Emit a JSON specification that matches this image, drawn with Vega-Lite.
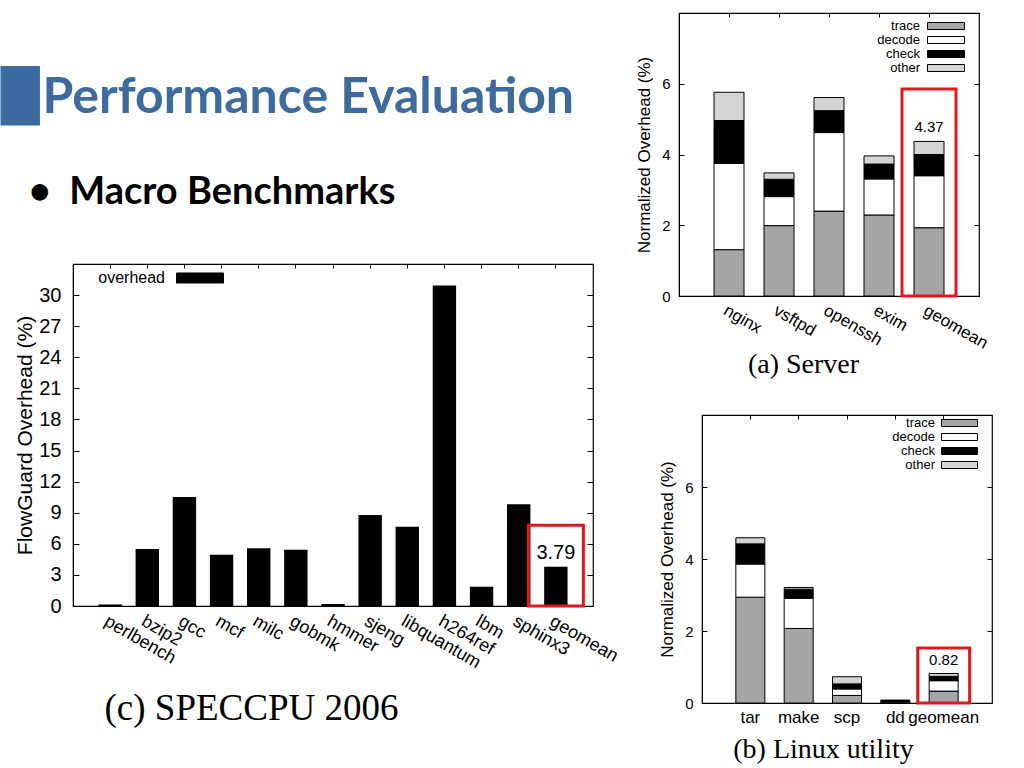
{
  "$schema": "https://vega.github.io/schema/vega-lite/v6.json",
  "background": "white",
  "padding": {"left": 0, "top": 11, "right": 0, "bottom": 0},
  "config": {
    "view": {"stroke": "black", "strokeWidth": 1.2},
    "axis": {"domainColor": "black", "tickColor": "black", "labelColor": "black", "titleColor": "black", "labelFont": "Liberation Sans", "titleFont": "Liberation Sans", "titleFontWeight": "normal", "grid": false, "labelOverlap": false},
    "legend": {"labelFont": "Liberation Sans", "labelColor": "black"}
  },
  "datasets": {
    "spec": [
      {"bench": "perlbench", "value": 0.15, "series": "overhead"},
      {"bench": "bzip2", "value": 5.49, "series": "overhead"},
      {"bench": "gcc", "value": 10.52, "series": "overhead"},
      {"bench": "mcf", "value": 4.94, "series": "overhead"},
      {"bench": "milc", "value": 5.58, "series": "overhead"},
      {"bench": "gobmk", "value": 5.42, "series": "overhead"},
      {"bench": "hmmer", "value": 0.19, "series": "overhead"},
      {"bench": "sjeng", "value": 8.79, "series": "overhead"},
      {"bench": "libquantum", "value": 7.64, "series": "overhead"},
      {"bench": "h264ref", "value": 30.93, "series": "overhead"},
      {"bench": "lbm", "value": 1.86, "series": "overhead"},
      {"bench": "sphinx3", "value": 9.82, "series": "overhead"},
      {"bench": "geomean", "value": 3.79, "series": "overhead"}
    ],
    "specbox": [{"bench": "geomean", "top": 7.8, "value": 3.79, "label": "3.79"}],
    "server": [
      {"app": "nginx", "part": "trace", "rank": 1, "value": 1.31},
      {"app": "nginx", "part": "decode", "rank": 2, "value": 2.44},
      {"app": "nginx", "part": "check", "rank": 3, "value": 1.21},
      {"app": "nginx", "part": "other", "rank": 4, "value": 0.80},
      {"app": "vsftpd", "part": "trace", "rank": 1, "value": 1.99},
      {"app": "vsftpd", "part": "decode", "rank": 2, "value": 0.82},
      {"app": "vsftpd", "part": "check", "rank": 3, "value": 0.49},
      {"app": "vsftpd", "part": "other", "rank": 4, "value": 0.18},
      {"app": "openssh", "part": "trace", "rank": 1, "value": 2.40},
      {"app": "openssh", "part": "decode", "rank": 2, "value": 2.22},
      {"app": "openssh", "part": "check", "rank": 3, "value": 0.62},
      {"app": "openssh", "part": "other", "rank": 4, "value": 0.37},
      {"app": "exim", "part": "trace", "rank": 1, "value": 2.29},
      {"app": "exim", "part": "decode", "rank": 2, "value": 1.02},
      {"app": "exim", "part": "check", "rank": 3, "value": 0.42},
      {"app": "exim", "part": "other", "rank": 4, "value": 0.23},
      {"app": "geomean", "part": "trace", "rank": 1, "value": 1.93},
      {"app": "geomean", "part": "decode", "rank": 2, "value": 1.47},
      {"app": "geomean", "part": "check", "rank": 3, "value": 0.60},
      {"app": "geomean", "part": "other", "rank": 4, "value": 0.37}
    ],
    "serverbox": [{"app": "geomean", "top": 5.85, "value": 4.37, "label": "4.37"}],
    "linux": [
      {"app": "tar", "part": "trace", "rank": 1, "value": 2.94},
      {"app": "tar", "part": "decode", "rank": 2, "value": 0.92},
      {"app": "tar", "part": "check", "rank": 3, "value": 0.56},
      {"app": "tar", "part": "other", "rank": 4, "value": 0.17},
      {"app": "make", "part": "trace", "rank": 1, "value": 2.07},
      {"app": "make", "part": "decode", "rank": 2, "value": 0.84},
      {"app": "make", "part": "check", "rank": 3, "value": 0.25},
      {"app": "make", "part": "other", "rank": 4, "value": 0.05},
      {"app": "scp", "part": "trace", "rank": 1, "value": 0.21},
      {"app": "scp", "part": "decode", "rank": 2, "value": 0.18},
      {"app": "scp", "part": "check", "rank": 3, "value": 0.14},
      {"app": "scp", "part": "other", "rank": 4, "value": 0.20},
      {"app": "dd", "part": "trace", "rank": 1, "value": 0.02},
      {"app": "dd", "part": "decode", "rank": 2, "value": 0.02},
      {"app": "dd", "part": "check", "rank": 3, "value": 0.03},
      {"app": "dd", "part": "other", "rank": 4, "value": 0.01},
      {"app": "geomean", "part": "trace", "rank": 1, "value": 0.33},
      {"app": "geomean", "part": "decode", "rank": 2, "value": 0.29},
      {"app": "geomean", "part": "check", "rank": 3, "value": 0.12},
      {"app": "geomean", "part": "other", "rank": 4, "value": 0.08}
    ],
    "linuxbox": [{"app": "geomean", "top": 1.53, "value": 0.82, "label": "0.82"}]
  },
  "spacing": 14,
  "resolve": {"scale": {"color": "independent"}, "legend": {"color": "independent"}},
  "hconcat": [
    {
      "spacing": 0,
      "resolve": {"scale": {"color": "independent"}, "legend": {"color": "independent"}},
      "vconcat": [
        {
          "width": 1,
          "height": 1,
          "view": {"stroke": null},
          "data": {"values": []},
          "mark": "point"
        },
        {
          "width": 520,
          "height": 342,
          "title": {
            "text": ["", "█\u200aPerformance Evaluation"],
            "subtitle": "\u200b\u00a0\u00a0\u00a0•\u00a0\u00a0Macro Benchmarks",
            "frame": "group",
            "anchor": "start",
            "dx": -72,
            "baseline": "top",
            "lineHeight": 58,
            "font": "Lato, DejaVu Sans",
            "fontSize": 50,
            "fontWeight": "bold",
            "color": "#3d6aa0",
            "subtitleFont": "Lato, DejaVu Sans",
            "subtitleFontSize": 38,
            "subtitleFontWeight": "bold",
            "subtitleColor": "black",
            "subtitlePadding": 51,
            "offset": 42
          },
          "layer": [
            {
              "data": {"name": "spec"},
              "mark": {"type": "bar"},
              "encoding": {
                "x": {"field": "bench", "type": "nominal", "sort": ["perlbench", "bzip2", "gcc", "mcf", "milc", "gobmk", "hmmer", "sjeng", "libquantum", "h264ref", "lbm", "sphinx3", "geomean"],
                  "scale": {"paddingInner": 0.37, "paddingOuter": 0.685},
                  "axis": {"labelAngle": 30, "labelAlign": "left", "labelBaseline": "top", "labelFontSize": 18, "labelPadding": 6, "ticks": false,
                    "title": "(c) SPECCPU 2006", "titleFont": "Liberation Serif", "titleFontSize": 37, "titleFontWeight": "normal", "titleX": 178, "titlePadding": 19}},
                "y": {"field": "value", "type": "quantitative", "scale": {"domain": [0, 33], "nice": false},
                  "axis": {"values": [0, 3, 6, 9, 12, 15, 18, 21, 24, 27, 30], "title": "FlowGuard Overhead (%)", "titleFontSize": 21, "labelFontSize": 20, "tickSize": -6, "labelPadding": 18, "titlePadding": 3}},
                "color": {"field": "series", "type": "nominal", "scale": {"domain": ["overhead"], "range": ["black"]},
                  "legend": {"title": null, "orient": "none", "legendX": 103, "legendY": -10, "symbolType": "M-1,-0.213H1V0.213H-1Z", "symbolSize": 2209, "symbolStrokeColor": "black", "symbolStrokeWidth": 1, "labelAlign": "right", "labelOffset": -59, "labelFontSize": 16, "padding": 0}}
              }
            },
            {
              "data": {"name": "specbox"},
              "mark": {"type": "bar", "width": {"band": 2.35}, "fill": "white", "fillOpacity": 0, "stroke": "#e3161b", "strokeWidth": 3},
              "encoding": {
                "x": {"field": "bench", "type": "nominal", "sort": ["perlbench", "bzip2", "gcc", "mcf", "milc", "gobmk", "hmmer", "sjeng", "libquantum", "h264ref", "lbm", "sphinx3", "geomean"],
                  "axis": {"orient": "top", "labels": false, "title": null, "domain": false, "tickSize": -4}},
                "y": {"field": "top", "type": "quantitative", "axis": {"orient": "right", "values": [0, 3, 6, 9, 12, 15, 18, 21, 24, 27, 30], "labels": false, "title": null, "domain": false, "tickSize": -6}},
                "y2": {"datum": 0}
              }
            },
            {
              "data": {"name": "specbox"},
              "mark": {"type": "text", "dy": -14, "fontSize": 20, "font": "Liberation Sans", "color": "black"},
              "encoding": {
                "x": {"field": "bench", "type": "nominal", "sort": ["perlbench", "bzip2", "gcc", "mcf", "milc", "gobmk", "hmmer", "sjeng", "libquantum", "h264ref", "lbm", "sphinx3", "geomean"], "axis": null},
                "y": {"field": "value", "type": "quantitative", "axis": null},
                "text": {"field": "label"}
              }
            }
          ],
          "resolve": {"axis": {"x": "independent", "y": "independent"}}
        }
      ]
    },
    {
      "spacing": 34,
      "resolve": {"scale": {"color": "independent"}, "legend": {"color": "independent"}},
      "vconcat": [
        {
          "width": 300,
          "height": 283,
          "layer": [
            {
              "data": {"name": "server"},
              "mark": {"type": "bar", "stroke": "black", "strokeWidth": 1},
              "encoding": {
                "x": {"field": "app", "type": "nominal", "sort": ["nginx", "vsftpd", "openssh", "exim", "geomean"],
                  "scale": {"paddingInner": 0.4, "paddingOuter": 0.7},
                  "axis": {"labelAngle": 30, "labelAlign": "left", "labelBaseline": "top", "labelFontSize": 17, "labelPadding": 6, "ticks": false,
                    "title": "(a) Server", "titleFont": "Liberation Serif", "titleFontSize": 28, "titleFontWeight": "normal", "titleX": 124, "titlePadding": -1}},
                "y": {"field": "value", "type": "quantitative", "stack": "zero", "scale": {"domain": [0, 8], "nice": false},
                  "axis": {"values": [0, 2, 4, 6], "title": "Normalized Overhead (%)", "titleFontSize": 17, "labelFontSize": 15, "tickSize": -5, "labelPadding": 14, "titlePadding": 8}},
                "color": {"field": "part", "type": "nominal", "scale": {"domain": ["trace", "decode", "check", "other"], "range": ["#a5a5a5", "#ffffff", "#000000", "#d4d4d4"]},
                  "legend": {"title": null, "orient": "none", "legendX": 260.5, "legendY": 6.5, "symbolType": "M-3.7,-0.7H3.7V0.7H-3.7Z", "symbolSize": 100, "symbolStrokeColor": "black", "symbolStrokeWidth": 1, "labelAlign": "right", "labelOffset": -32.5, "labelFontSize": 13, "rowPadding": 0, "padding": 0}},
                "order": {"field": "rank", "type": "quantitative"}
              }
            },
            {
              "data": {"name": "serverbox"},
              "mark": {"type": "bar", "width": {"band": 1.8}, "fill": "white", "fillOpacity": 0, "stroke": "#e3161b", "strokeWidth": 3},
              "encoding": {
                "x": {"field": "app", "type": "nominal", "sort": ["nginx", "vsftpd", "openssh", "exim", "geomean"],
                  "axis": {"orient": "top", "labels": false, "title": null, "domain": false, "tickSize": -4}},
                "y": {"field": "top", "type": "quantitative", "axis": {"orient": "right", "values": [0, 2, 4, 6], "labels": false, "title": null, "domain": false, "tickSize": -5}},
                "y2": {"datum": 0}
              }
            },
            {
              "data": {"name": "serverbox"},
              "mark": {"type": "text", "dy": -14, "fontSize": 15, "font": "Liberation Sans", "color": "black"},
              "encoding": {
                "x": {"field": "app", "type": "nominal", "sort": ["nginx", "vsftpd", "openssh", "exim", "geomean"], "axis": null},
                "y": {"field": "value", "type": "quantitative", "axis": null},
                "text": {"field": "label"}
              }
            }
          ],
          "resolve": {"axis": {"x": "independent", "y": "independent"}}
        },
        {
          "spacing": 0,
          "bounds": "flush",
          "resolve": {"scale": {"color": "independent"}, "legend": {"color": "independent"}},
          "hconcat": [
            {
              "width": 23,
              "height": 2,
              "view": {"stroke": null},
              "data": {"values": []},
              "mark": "point"
            },
            {
              "width": 290,
              "height": 288,
              "layer": [
                {
                  "data": {"name": "linux"},
                  "mark": {"type": "bar", "stroke": "black", "strokeWidth": 1},
                  "encoding": {
                    "x": {"field": "app", "type": "nominal", "sort": ["tar", "make", "scp", "dd", "geomean"],
                      "scale": {"paddingInner": 0.4, "paddingOuter": 0.7},
                      "axis": {"labelAngle": 0, "labelFontSize": 17, "labelPadding": 6, "ticks": false,
                        "title": "(b) Linux utility", "titleFont": "Liberation Serif", "titleFontSize": 28, "titleFontWeight": "normal", "titleX": 121, "titlePadding": 10}},
                    "y": {"field": "value", "type": "quantitative", "stack": "zero", "scale": {"domain": [0, 8], "nice": false},
                      "axis": {"values": [0, 2, 4, 6], "title": "Normalized Overhead (%)", "titleFontSize": 17, "labelFontSize": 15, "tickSize": -5, "labelPadding": 14, "titlePadding": 8}},
                    "color": {"field": "part", "type": "nominal", "scale": {"domain": ["trace", "decode", "check", "other"], "range": ["#a5a5a5", "#ffffff", "#000000", "#d4d4d4"]},
                      "legend": {"title": null, "orient": "none", "legendX": 251, "legendY": 1.5, "symbolType": "M-3.6,-0.7H3.6V0.7H-3.6Z", "symbolSize": 100, "symbolStrokeColor": "black", "symbolStrokeWidth": 1, "labelAlign": "right", "labelOffset": -31, "labelFontSize": 13, "rowPadding": 0, "padding": 0}},
                    "order": {"field": "rank", "type": "quantitative"}
                  }
                },
                {
                  "data": {"name": "linuxbox"},
                  "mark": {"type": "bar", "width": {"band": 1.79}, "fill": "white", "fillOpacity": 0, "stroke": "#e3161b", "strokeWidth": 3},
                  "encoding": {
                    "x": {"field": "app", "type": "nominal", "sort": ["tar", "make", "scp", "dd", "geomean"],
                      "axis": {"orient": "top", "labels": false, "title": null, "domain": false, "tickSize": -4}},
                    "y": {"field": "top", "type": "quantitative", "axis": {"orient": "right", "values": [0, 2, 4, 6], "labels": false, "title": null, "domain": false, "tickSize": -5}},
                    "y2": {"datum": 0}
                  }
                },
                {
                  "data": {"name": "linuxbox"},
                  "mark": {"type": "text", "dy": -13, "fontSize": 15, "font": "Liberation Sans", "color": "black"},
                  "encoding": {
                    "x": {"field": "app", "type": "nominal", "sort": ["tar", "make", "scp", "dd", "geomean"], "axis": null},
                    "y": {"field": "value", "type": "quantitative", "axis": null},
                    "text": {"field": "label"}
                  }
                }
              ],
              "resolve": {"axis": {"x": "independent", "y": "independent"}}
            }
          ]
        }
      ]
    }
  ]
}
